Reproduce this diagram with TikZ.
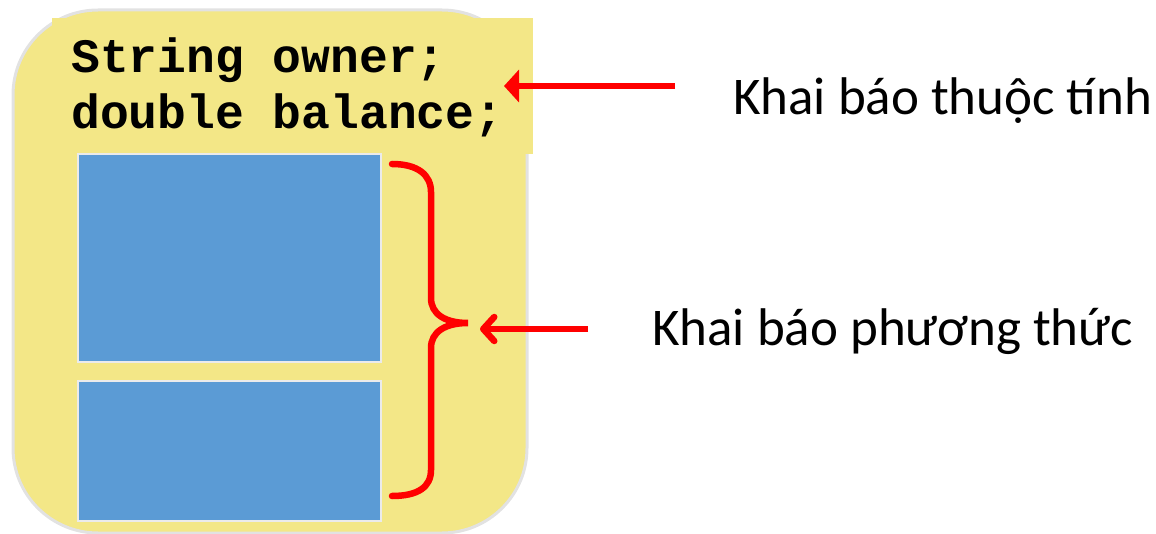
\documentclass[tikz,border=0pt]{standalone}
\usepackage{fontspec}
\setmainfont{Carlito}
\newfontfamily\codefont{Liberation Mono}
\usetikzlibrary{arrows.meta}
\definecolor{boxyellow}{HTML}{F3E787}
\definecolor{boxblue}{HTML}{5B9BD5}
\definecolor{boxgray}{HTML}{E2E2E2}
\definecolor{arrred}{HTML}{FF0000}
\tikzset{
  outerbox/.style={draw=boxgray, line width=3pt, fill=boxyellow, rounded corners=85pt},
  codebg/.style={fill=boxyellow},
  methodbox/.style={draw=boxgray!70!white, line width=2pt, fill=boxblue},
  codetext/.style={font=\codefont\bfseries\fontsize{48}{56}\selectfont, anchor=base west, inner sep=0pt, align=left},
  labeltext/.style={font=\fontsize{53}{60}\selectfont, anchor=base west, inner sep=0pt},
  redline/.style={draw=arrred, line width=6.5pt},
}
\begin{document}
\begin{tikzpicture}[x=1pt,y=-1pt]
\useasboundingbox (0,0) rectangle (1156,534);
% outer rounded container
\path[outerbox] (13,10) rectangle (527,533);
% code background
\path[codebg] (52,18) rectangle (533,154);
% method boxes
\node[methodbox, minimum width=303pt, minimum height=208pt, anchor=north west, inner sep=0pt] (m1) at (77,153) {};
\node[methodbox, minimum width=303pt, minimum height=140pt, anchor=north west, inner sep=0pt] (m2) at (77,380) {};
% code text
\node[codetext] (c1) at (71,73) {String owner;};
\node[codetext] (c2) at (71,129) {double balance;};
% labels
\node[labeltext] (l1) at (733,115) {Khai báo thuộc tính};
\node[labeltext] (l2) at (652,345) {Khai báo phương thức};
% brace
\coordinate (bt) at (392,164);
\coordinate (bb) at (392,496);
\coordinate (btip) at (468,323);
\draw[redline, line cap=round] (bt) .. controls (418,164) and (431,175) .. (431,192)
  -- (431,298) .. controls (431,314) and (445,323) .. (btip)
  .. controls (445,323) and (431,332) .. (431,348)
  -- (431,470) .. controls (431,487) and (418,496) .. (bb);
% arrows
\coordinate (a1s) at (675,86);
\coordinate (a1e) at (504,86);
\draw[redline, -{Triangle[length=15pt,width=32pt]}] (a1s) -- (a1e);
\coordinate (a2s) at (588,329);
\coordinate (a2e) at (480,329);
\draw[redline, -{Straight Barb[length=11pt,width=24pt,line cap=round,round]}] (a2s) -- (a2e);
\end{tikzpicture}
\end{document}
